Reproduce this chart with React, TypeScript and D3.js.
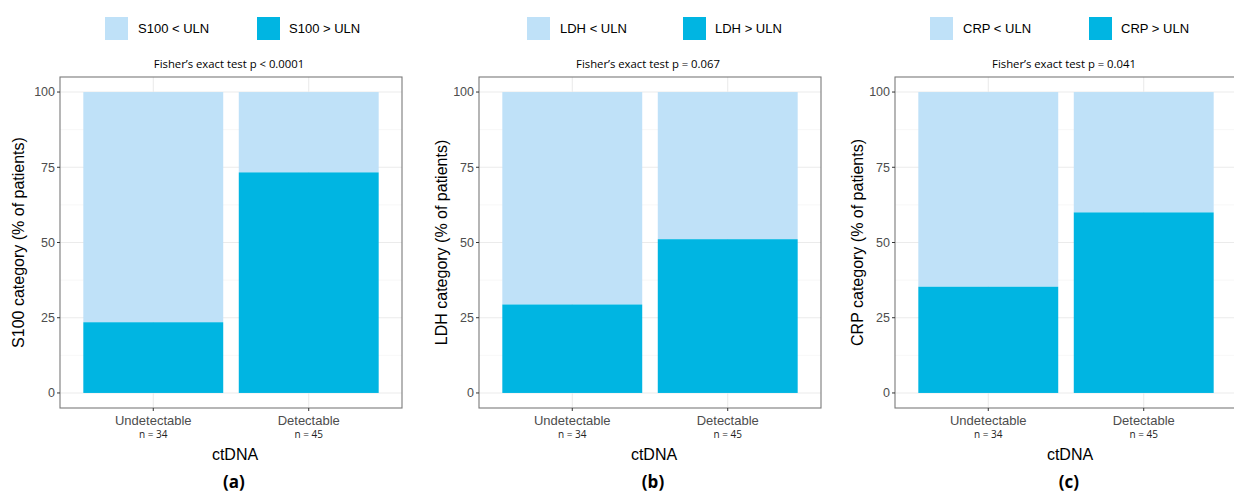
import { scaleLinear } from "d3";

const categories = ["Undetectable", "Detectable"];
const nLabels = ["n = 34", "n = 45"];
const markers = ["S100", "LDH", "CRP"];
const pTexts = ["p < 0.0001", "p = 0.067", "p = 0.041"];
const panelTags = ["(a)", "(b)", "(c)"];
// % of patients above ULN, per marker, per category
const aboveS100 = [23.5, 73.3];
const aboveLDH = [29.4, 51.1];
const aboveCRP = [35.3, 60.0];
const aboveValues = [aboveS100, aboveLDH, aboveCRP];
const yTicks = [0, 25, 50, 75, 100];
const yMinor = [12.5, 37.5, 62.5, 87.5];

const lightBlue = "#bfe1f8";
const darkBlue = "#00b5e2";
const tickGrey = "#4d4d4d";
const borderGrey = "#7a7a7a";

// layout of each panel (left edge of plot box, legend, y title)
const plotLefts = [60, 479, 895];
const legendLefts = [105, 527, 930];
const legendSecond = [257, 683, 1089];
const yTitleX = [18, 441, 857];

const plotTop = 77;
const plotBottom = 408;
const plotWidth = 342;

const sans = "'Liberation Sans', Arial, Helvetica, sans-serif";
const humanist = "'Open Sans', 'Noto Sans', sans-serif";

const Panel = ({ idx }: { idx: number }) => {
  const left = plotLefts[idx];
  const values = aboveValues[idx];
  const marker = markers[idx];

  const yScale = scaleLinear()
    .domain([-5, 105])
    .range([plotBottom, plotTop]);

  // discrete axis like ggplot: 0.6 units expansion each side, bar width 0.9
  const xScale = scaleLinear()
    .domain([0.4, 2.6])
    .range([left, left + plotWidth]);
  const bw = xScale(0.9) - xScale(0);
  const center = (c: string) => xScale(categories.indexOf(c) + 1);

  const plotCenter = left + plotWidth / 2;

  return (
    <g>
      {/* legend */}
      <rect x={legendLefts[idx]} y={17} width={23} height={23} fill={lightBlue} />
      <text x={legendLefts[idx] + 33} y={33} fontFamily={sans} fontSize={13} fill="#000">
        {marker} &lt; ULN
      </text>
      <rect x={legendSecond[idx]} y={17} width={23} height={23} fill={darkBlue} />
      <text x={legendSecond[idx] + 32} y={33} fontFamily={sans} fontSize={13} fill="#000">
        {marker} &gt; ULN
      </text>

      {/* subtitle */}
      <text x={plotCenter - 2} y={68} textAnchor="middle" fontFamily={humanist} fontSize={11.3} fill="#000">
        Fisher’s exact test {pTexts[idx]}
      </text>

      {/* grid */}
      {yMinor.map((t) => (
        <line key={"m" + t} x1={left} x2={left + plotWidth} y1={yScale(t)} y2={yScale(t)} stroke="#f5f5f5" strokeWidth={0.8} />
      ))}
      {yTicks.map((t) => (
        <line key={"g" + t} x1={left} x2={left + plotWidth} y1={yScale(t)} y2={yScale(t)} stroke="#ebebeb" strokeWidth={1.1} />
      ))}
      {categories.map((c) => (
        <line key={"v" + c} x1={center(c)} x2={center(c)} y1={plotTop} y2={plotBottom} stroke="#ebebeb" strokeWidth={1.1} />
      ))}

      {/* bars */}
      {categories.map((c, i) => {
        const x = center(c) - bw / 2;
        return (
          <g key={c}>
            <rect x={x} y={yScale(100)} width={bw} height={yScale(values[i]) - yScale(100)} fill={lightBlue} />
            <rect x={x} y={yScale(values[i])} width={bw} height={yScale(0) - yScale(values[i])} fill={darkBlue} />
          </g>
        );
      })}

      {/* border */}
      <rect x={left} y={plotTop} width={plotWidth} height={plotBottom - plotTop} fill="none" stroke={borderGrey} strokeWidth={1.1} />

      {/* y axis */}
      {yTicks.map((t) => (
        <g key={"y" + t} transform={`translate(${left},${yScale(t)})`}>
          <line x1={-3} x2={0} stroke="#333" strokeWidth={1} />
          <text x={-5} dy="0.35em" textAnchor="end" fontFamily={sans} fontSize={12.5} fill={tickGrey}>
            {t}
          </text>
        </g>
      ))}
      <text
        transform={`translate(${yTitleX[idx]},${(plotTop + plotBottom) / 2}) rotate(-90)`}
        textAnchor="middle"
        dy="0.35em"
        fontFamily={sans}
        fontSize={16}
        fill="#000"
      >
        {marker} category (% of patients)
      </text>

      {/* x axis */}
      {categories.map((c, i) => (
        <g key={"x" + c} transform={`translate(${center(c)},${plotBottom})`}>
          <line y1={0} y2={3} stroke="#333" strokeWidth={1} />
          <text y={17} textAnchor="middle" fontFamily={sans} fontSize={13} fill={tickGrey}>
            {c}
          </text>
          <text y={30} textAnchor="middle" fontFamily={humanist} fontSize={10} fill="#222">
            {nLabels[i]}
          </text>
        </g>
      ))}
      <text x={plotCenter + 4} y={460} textAnchor="middle" fontFamily={sans} fontSize={16} fill="#000">
        ctDNA
      </text>
      <text x={plotCenter + 3} y={488} textAnchor="middle" fontFamily={humanist} fontWeight="bold" fontSize={17} fill="#000">
        {panelTags[idx]}
      </text>
    </g>
  );
};

export default function App() {
  return (
    <svg
      width={1234}
      height={492}
      style={{ position: "absolute", left: 0, top: 0, background: "#fff" }}
    >
      <rect width={1234} height={492} fill="#fff" />
      {markers.map((m, i) => (
        <Panel key={m} idx={i} />
      ))}
    </svg>
  );
}
